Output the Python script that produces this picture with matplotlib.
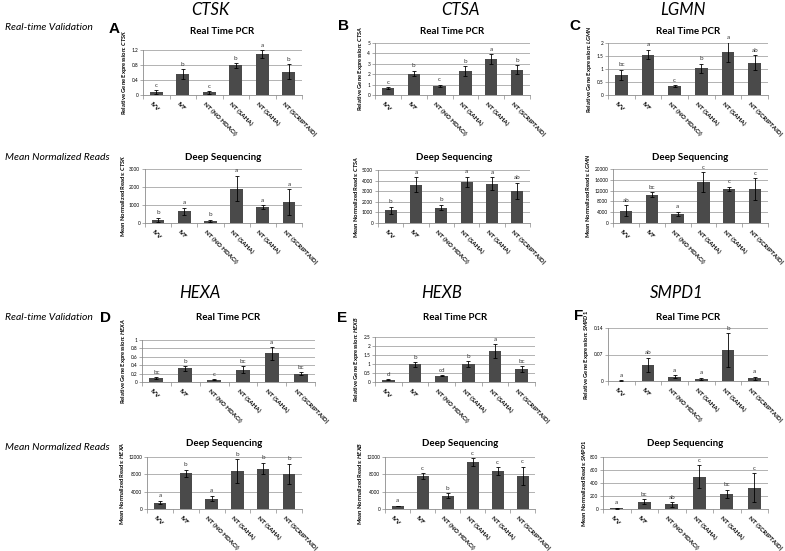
import matplotlib
matplotlib.use("Agg")
import matplotlib.pyplot as plt

plt.rcParams['font.family'] = ['Lato', 'DejaVu Sans']
plt.rcParams['mathtext.fontset'] = 'custom'
plt.rcParams['mathtext.it'] = 'Lato:italic:bold'
plt.rcParams['mathtext.rm'] = 'Lato:bold'

categories = ["IVV", "IVF", "NT (NO HDACi)", "NT (SAHA)", "NT (SAHA)", "NT (SCRIPTAID)"]

# A - CTSK
ctsk_rt = [0.08, 0.56, 0.07, 0.79, 1.10, 0.62]
ctsk_rt_err = [0.05, 0.14, 0.04, 0.07, 0.10, 0.20]
ctsk_rt_sig = ["c", "b", "c", "b", "a", "b"]
ctsk_rt_ticks = [0, 0.4, 0.8, 1.2]
ctsk_rt_ticklabels = ["0", "0.4", "0.8", "1.2"]
ctsk_ds = [180, 650, 100, 1900, 880, 1150]
ctsk_ds_err = [100, 200, 60, 700, 100, 720]
ctsk_ds_sig = ["b", "a", "b", "a", "a", "a"]
ctsk_ds_ticks = [0, 1000, 2000, 3000]
ctsk_ds_ticklabels = ["0", "1000", "2000", "3000"]

# B - CTSA
ctsa_rt = [0.65, 2.05, 0.85, 2.30, 3.45, 2.45]
ctsa_rt_err = [0.10, 0.25, 0.12, 0.45, 0.45, 0.40]
ctsa_rt_sig = ["c", "b", "c", "b", "a", "b"]
ctsa_rt_ticks = [0, 1, 2, 3, 4, 5]
ctsa_rt_ticklabels = ["0", "1", "2", "3", "4", "5"]
ctsa_ds = [1200, 3600, 1450, 3850, 3700, 3050]
ctsa_ds_err = [350, 700, 250, 500, 600, 750]
ctsa_ds_sig = ["b", "a", "b", "a", "a", "ab"]
ctsa_ds_ticks = [0, 1000, 2000, 3000, 4000, 5000]
ctsa_ds_ticklabels = ["0", "1000", "2000", "3000", "4000", "5000"]

# C - LGMN
lgmn_rt = [0.77, 1.55, 0.35, 1.03, 1.65, 1.25]
lgmn_rt_err = [0.20, 0.18, 0.03, 0.18, 0.38, 0.27]
lgmn_rt_sig = ["bc", "a", "c", "b", "a", "ab"]
lgmn_rt_ticks = [0, 0.5, 1, 1.5, 2]
lgmn_rt_ticklabels = ["0", "0.5", "1", "1.5", "2"]
lgmn_ds = [4500, 10500, 3400, 15200, 12700, 12500]
lgmn_ds_err = [2000, 800, 700, 3600, 800, 4000]
lgmn_ds_sig = ["ab", "bc", "a", "c", "c", "c"]
lgmn_ds_ticks = [0, 4000, 8000, 12000, 16000, 20000]
lgmn_ds_ticklabels = ["0", "4000", "8000", "12000", "16000", "20000"]

# D - HEXA
hexa_rt = [0.09, 0.33, 0.05, 0.29, 0.68, 0.20]
hexa_rt_err = [0.02, 0.06, 0.01, 0.08, 0.15, 0.04]
hexa_rt_sig = ["bc", "b", "c", "bc", "a", "bc"]
hexa_rt_ticks = [0, 0.2, 0.4, 0.6, 0.8, 1]
hexa_rt_ticklabels = ["0", "0.2", "0.4", "0.6", "0.8", "1"]
hexa_ds = [1500, 8300, 2400, 8700, 9300, 8100]
hexa_ds_err = [400, 800, 600, 2800, 1300, 2300]
hexa_ds_sig = ["a", "b", "a", "b", "b", "b"]
hexa_ds_ticks = [0, 4000, 8000, 12000]
hexa_ds_ticklabels = ["0", "4000", "8000", "12000"]

# E - HEXB
hexb_rt = [0.13, 0.98, 0.35, 0.98, 1.72, 0.72]
hexb_rt_err = [0.03, 0.13, 0.04, 0.17, 0.40, 0.15]
hexb_rt_sig = ["d", "b", "cd", "b", "a", "bc"]
hexb_rt_ticks = [0, 0.5, 1, 1.5, 2, 2.5]
hexb_rt_ticklabels = ["0", "0.5", "1", "1.5", "2", "2.5"]
hexb_ds = [700, 7600, 3100, 10800, 8700, 7700]
hexb_ds_err = [100, 600, 500, 900, 900, 2100]
hexb_ds_sig = ["a", "c", "b", "c", "c", "c"]
hexb_ds_ticks = [0, 4000, 8000, 12000]
hexb_ds_ticklabels = ["0", "4000", "8000", "12000"]

# F - SMPD1
smpd1_rt = [0.001, 0.043, 0.011, 0.005, 0.082, 0.007]
smpd1_rt_err = [0.001, 0.018, 0.004, 0.003, 0.044, 0.004]
smpd1_rt_sig = ["a", "ab", "a", "a", "b", "a"]
smpd1_rt_ticks = [0, 0.07, 0.14]
smpd1_rt_ticklabels = ["0", "0.07", "0.14"]
smpd1_ds = [10, 110, 70, 500, 235, 330]
smpd1_ds_err = [5, 40, 35, 170, 65, 220]
smpd1_ds_sig = ["a", "bc", "ab", "c", "bc", "c"]
smpd1_ds_ticks = [0, 200, 400, 600, 800]
smpd1_ds_ticklabels = ["0", "200", "400", "600", "800"]

W, H = 785, 551
fig = plt.figure(figsize=(W / 100, H / 100), dpi=100)

BAR = "#4a4a4a"
GRID = "#a6a6a6"


def panel(box, gene, kind, vals, errs, sigs, ticks, ticklabels, title_y):
    x0, x1, yt, yb = box
    ax = fig.add_axes([x0 / W, 1 - yb / H, (x1 - x0) / W, (yb - yt) / H])
    xs = list(range(len(categories)))
    ax.bar(xs, vals, width=0.48, color=BAR, zorder=3)
    ax.errorbar(xs, vals, yerr=errs, fmt="none", ecolor="black",
                elinewidth=0.6, capsize=1.5, capthick=0.6, zorder=4)
    top = ticks[-1]
    for x, v, e, s in zip(xs, vals, errs, sigs):
        ax.text(x, v + e + top * 0.05, s, ha="center", va="bottom",
                fontsize=4.5, color="#333333", clip_on=False, zorder=5)
    ax.set_xlim(-0.5, len(categories) - 0.5)
    ax.set_ylim(0, top)
    ax.set_yticks(ticks)
    ax.set_yticklabels(ticklabels, fontsize=3.4)
    ax.yaxis.grid(True, color=GRID, lw=0.6, zorder=0)
    ax.set_axisbelow(True)
    for s in ("top", "right"):
        ax.spines[s].set_visible(False)
    for s in ("left", "bottom"):
        ax.spines[s].set_color("#8c8c8c")
        ax.spines[s].set_linewidth(0.6)
    ax.set_xticks([i - 0.5 for i in range(len(categories) + 1)])
    ax.set_xticklabels([])
    ax.tick_params(axis="x", length=3, width=0.5, color="#8c8c8c")
    ax.tick_params(axis="y", length=2, width=0.5, color="#8c8c8c", pad=1.5)
    for x, c in zip(xs, categories):
        ax.annotate(c, xy=(x, 0), xycoords=("data", "axes fraction"),
                    xytext=(-4, -6), textcoords="offset points",
                    rotation=-45, rotation_mode="anchor", ha="left", va="center",
                    fontsize=4.5, fontweight="bold", annotation_clip=False)
    if kind == "rt":
        lab = "Relative Gene Expression: $\\mathit{" + gene + "}$"
        ttl = "Real Time PCR"
    else:
        lab = "Mean Normalized Reads: $\\mathit{" + gene + "}$"
        ttl = "Deep Sequencing"
    ax.set_ylabel(lab, fontsize=4.2, fontweight="bold", labelpad=1.5)
    fig.text((x0 + x1) / 2 / W, 1 - title_y / H, ttl, ha="center", va="center",
             fontsize=7, fontweight="bold")
    return ax


panel((143, 302, 50, 95), "CTSK", "rt", ctsk_rt, ctsk_rt_err, ctsk_rt_sig,
      ctsk_rt_ticks, ctsk_rt_ticklabels, 32)
panel((375, 530, 43, 95), "CTSA", "rt", ctsa_rt, ctsa_rt_err, ctsa_rt_sig,
      ctsa_rt_ticks, ctsa_rt_ticklabels, 31)
panel((608, 768, 43, 95), "LGMN", "rt", lgmn_rt, lgmn_rt_err, lgmn_rt_sig,
      lgmn_rt_ticks, lgmn_rt_ticklabels, 31)
panel((145, 302, 169, 223), "CTSK", "ds", ctsk_ds, ctsk_ds_err, ctsk_ds_sig,
      ctsk_ds_ticks, ctsk_ds_ticklabels, 158)
panel((378, 530, 170, 223), "CTSA", "ds", ctsa_ds, ctsa_ds_err, ctsa_ds_sig,
      ctsa_ds_ticks, ctsa_ds_ticklabels, 158)
panel((613, 768, 169, 223), "LGMN", "ds", lgmn_ds, lgmn_ds_err, lgmn_ds_sig,
      lgmn_ds_ticks, lgmn_ds_ticklabels, 158)
panel((142, 315, 340, 382), "HEXA", "rt", hexa_rt, hexa_rt_err, hexa_rt_sig,
      hexa_rt_ticks, hexa_rt_ticklabels, 318)
panel((375, 535, 337, 382), "HEXB", "rt", hexb_rt, hexb_rt_err, hexb_rt_sig,
      hexb_rt_ticks, hexb_rt_ticklabels, 318)
panel((608, 768, 328, 381), "SMPD1", "rt", smpd1_rt, smpd1_rt_err, smpd1_rt_sig,
      smpd1_rt_ticks, smpd1_rt_ticklabels, 317)
panel((147, 302, 457, 509), "HEXA", "ds", hexa_ds, hexa_ds_err, hexa_ds_sig,
      hexa_ds_ticks, hexa_ds_ticklabels, 443)
panel((385, 535, 457, 509), "HEXB", "ds", hexb_ds, hexb_ds_err, hexb_ds_sig,
      hexb_ds_ticks, hexb_ds_ticklabels, 443)
panel((603, 768, 457, 509), "SMPD1", "ds", smpd1_ds, smpd1_ds_err, smpd1_ds_sig,
      smpd1_ds_ticks, smpd1_ds_ticklabels, 443)

# gene titles
for name, x, y in [("CTSK", 210, 10), ("CTSA", 460, 10), ("LGMN", 683, 10),
                   ("HEXA", 200, 293), ("HEXB", 442, 293), ("SMPD1", 677, 293)]:
    fig.text(x / W, 1 - y / H, name, ha="center", va="center", fontsize=12,
             style="italic")

# row labels
for txt, y in [("Real-time Validation", 28), ("Mean Normalized Reads", 158),
               ("Real-time Validation", 317), ("Mean Normalized Reads", 447)]:
    fig.text(5 / W, 1 - y / H, txt, ha="left", va="center", fontsize=7.5,
             style="italic")

# panel letters
for L, x, y in [("A", 109, 29), ("B", 338, 26), ("C", 569, 26),
                ("D", 100, 318), ("E", 337, 318), ("F", 574, 316)]:
    fig.text(x / W, 1 - y / H, L, ha="left", va="center", fontsize=11,
             fontweight="bold", family="Liberation Sans")

fig.savefig("out.png", dpi=100)
